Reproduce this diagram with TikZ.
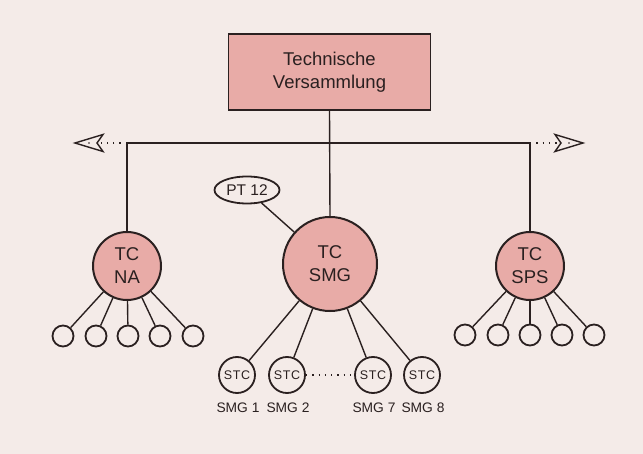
\documentclass[tikz,border=0pt]{standalone}
\usepackage{fontspec}
\usetikzlibrary{shapes.geometric}
\setmainfont{Liberation Sans}
\newfontfamily\stcfont[LetterSpace=6]{Liberation Sans}
\definecolor{bgc}{HTML}{F4EBE8}
\definecolor{pinkf}{HTML}{E8ABA7}
\definecolor{ink}{HTML}{2A2020}
\begin{document}
\begin{tikzpicture}[x=1pt,y=-1pt,
  line/.style={draw=ink,line width=1.4pt},
  bigc/.style={circle,draw=ink,line width=2pt,fill=pinkf,inner sep=0pt,align=center,text=ink,font=\fontsize{18.5}{23}\selectfont},
  smallc/.style={circle,draw=ink,line width=1.8pt,fill=bgc,inner sep=0pt,minimum size=21pt},
  stcc/.style={circle,draw=ink,line width=1.8pt,fill=bgc,inner sep=0pt,minimum size=36pt,text=ink,font=\stcfont\fontsize{12.5}{14}\selectfont},
  lab/.style={text=ink,font=\fontsize{13.8}{15}\selectfont,inner sep=0pt},
  dotl/.style={draw=ink,line width=1.4pt,dash pattern=on 1.3pt off 5pt},
  arrh/.style={draw=ink,line width=1.4pt,fill=bgc,line join=miter}
]
\useasboundingbox (0,0) rectangle (643,454);
\fill[bgc] (0,0) rectangle (643,454);

% top box
\node[draw=ink,line width=1.6pt,fill=pinkf,minimum width=202pt,minimum height=76pt,inner sep=0pt,align=center,text=ink,font=\fontsize{18.5}{23}\selectfont] (tv) at (329.5,72) {Technische\\Versammlung};

% main circles
\node[bigc,minimum size=94pt] (smg) at (330,264) {TC\\SMG};
\node[bigc,minimum size=68pt] (na) at (127,266) {TC\\NA};
\node[bigc,minimum size=68pt] (sps) at (530,266) {TC\\SPS};

% PT 12
\node[ellipse,draw=ink,line width=1.8pt,fill=bgc,minimum width=65pt,minimum height=27pt,inner sep=0pt,text=ink,font=\fontsize{15.5}{17}\selectfont] (pt) at (247,190) {PT 12};

% bus
\coordinate (lj) at (127,143);
\coordinate (rj) at (530,143);
\draw[line] (na.north) -- (lj) -- (rj) -- (sps.north);
\draw[line] (tv.south) -- (smg.north);
\draw[line] (pt) -- (smg);

% dotted extensions and open arrowheads
\coordinate (ln) at (97,143);
\coordinate (rn) at (561,143);
\draw[dotl] (lj) -- (ln);
\draw[dotl] (rj) -- (rn);
\draw[arrh] (75,143) -- (103,134.5) -- (97,143) -- (103,151.5) -- cycle;
\draw[arrh] (583,143) -- (555,134.5) -- (561,143) -- (555,151.5) -- cycle;
\fill[ink] (89,143) circle (0.8pt);
\fill[ink] (569,143) circle (0.8pt);

% small circles NA
\foreach \i/\x in {1/63,2/96,3/128,4/160,5/193}{
  \node[smallc] (na\i) at (\x,336) {};
  \draw[line] (na) -- (na\i);
}
% small circles SPS
\foreach \i/\x in {1/465,2/498,3/530,4/562,5/594}{
  \node[smallc] (sps\i) at (\x,335) {};
  \draw[line] (sps) -- (sps\i);
}

% STC circles
\foreach \i/\x in {1/237,2/287,7/373,8/422}{
  \node[stcc] (stc\i) at (\x,375) {STC};
  \draw[line] (smg) -- (stc\i);
  \node[lab] (l\i) at (\x+1,408) {SMG \i};
}
\draw[dotl] (stc2) -- (stc7);
\end{tikzpicture}
\end{document}
